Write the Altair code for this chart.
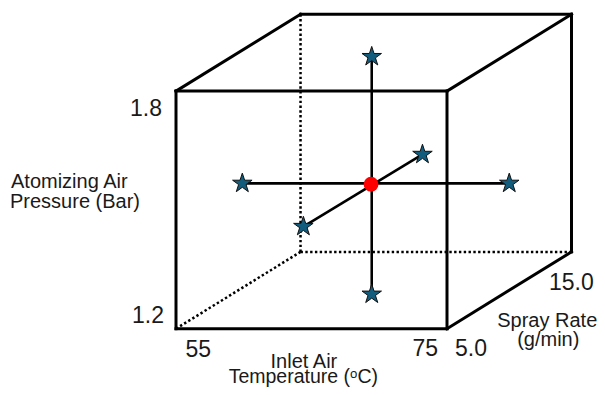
import altair as alt
import pandas as pd

# ---- design levels (cube corners) ----
temp_levels = [55, 75]          # Inlet air temperature (°C)
pressure_levels = [1.2, 1.8]    # Atomizing air pressure (Bar)
spray_levels = [5.0, 15.0]      # Spray rate (g/min)

# ---- axial (star) points: temperature, pressure, spray ----
star_names = ["left", "right", "top", "bottom", "front", "back"]
star_temp = [55.3, 75.0, 64.85, 64.85, 64.4, 64.0]
star_pressure = [1.47, 1.47, 1.79, 1.19, 1.458, 1.446]
star_spray = [10.0, 10.0, 10.0, 10.0, 5.0, 15.0]

# ---- centre point ----
center_temp = [64.8]
center_pressure = [1.468]
center_spray = [10.0]

# lines joining opposite star points
star_pairs = [("left", "right"), ("top", "bottom"), ("front", "back")]

# oblique projection of the spray-rate axis (per g/min)
DEPTH_T = 0.919
DEPTH_P = 0.0194
S0 = spray_levels[0]

T_DOMAIN = [42.6015, 86.0701]
P_DOMAIN = [1.05278, 2.00985]

xs = alt.Scale(domain=T_DOMAIN, nice=False, zero=False)
ys = alt.Scale(domain=P_DOMAIN, nice=False, zero=False)

STAR_PATH = ("M0,-1L0.2245,-0.309L0.951,-0.309L0.363,0.118L0.588,0.809L0,0.382"
             "L-0.588,0.809L-0.363,0.118L-0.951,-0.309L-0.2245,-0.309Z")


def proj_x(t, s):
    return float(t + (s - S0) * DEPTH_T)


def proj_y(p, s):
    return float(p + (s - S0) * DEPTH_P)


tl, th = temp_levels
pl, ph = pressure_levels
sl, sh = spray_levels
solid_edges = [
    ((tl, pl, sl), (th, pl, sl)),
    ((tl, ph, sl), (th, ph, sl)),
    ((tl, pl, sl), (tl, ph, sl)),
    ((th, pl, sl), (th, ph, sl)),
    ((tl, ph, sh), (th, ph, sh)),
    ((th, pl, sh), (th, ph, sh)),
    ((tl, ph, sl), (tl, ph, sh)),
    ((th, ph, sl), (th, ph, sh)),
    ((th, pl, sl), (th, pl, sh)),
]
dotted_edges = [
    ((tl, pl, sh), (tl, ph, sh)),
    ((tl, pl, sh), (th, pl, sh)),
    ((tl, pl, sl), (tl, pl, sh)),
]

idx = {n: i for i, n in enumerate(star_names)}
pair_edges = []
for a, b in star_pairs:
    ia, ib = idx[a], idx[b]
    pair_edges.append(((star_temp[ia], star_pressure[ia], star_spray[ia]),
                       (star_temp[ib], star_pressure[ib], star_spray[ib])))

# labels: text, anchor (T, P, S), pixel offset, align, font size
labels = [
    ("1.8", tl, ph, sl, -14, 25, "right", 23),
    ("1.2", tl, pl, sl, -12, -5.7, "right", 23),
    ("55", tl, pl, sl, 9.5, 28, "left", 23),
    ("75", th, pl, sl, -9, 27.5, "right", 23),
    ("5.0", th, pl, sl, 8, 27.5, "left", 23),
    ("15.0", th, pl, sh, -22.5, 38, "left", 23),
    ("Atomizing Air", tl, 1.5, sl, -165, -22, "left", 20),
    ("Pressure (Bar)", tl, 1.5, sl, -166, -2, "left", 20),
    ("Inlet Air", 65, pl, sl, -7.6, 39.5, "center", 20),
    ("Temperature (\u1d52C)", 65, pl, sl, -8.2, 54, "center", 19.5),
    ("Spray Rate", th, pl, 10.0, 38, 36.5, "center", 20),
    ("(g/min)", th, pl, 10.0, 39, 55.5, "center", 20),
]

# ---- one table for everything ----
rows = []
for kind, edges in (("solid", solid_edges), ("dotted", dotted_edges), ("axis", pair_edges)):
    for a, b in edges:
        rows.append({"kind": kind,
                     "px": proj_x(a[0], a[2]), "py": proj_y(a[1], a[2]),
                     "px2": proj_x(b[0], b[2]), "py2": proj_y(b[1], b[2]), "label": ""})
for t, p, s in zip(star_temp, star_pressure, star_spray):
    rows.append({"kind": "star", "px": proj_x(t, s), "py": proj_y(p, s),
                 "px2": proj_x(t, s), "py2": proj_y(p, s), "label": ""})
for t, p, s in zip(center_temp, center_pressure, center_spray):
    rows.append({"kind": "center", "px": proj_x(t, s), "py": proj_y(p, s),
                 "px2": proj_x(t, s), "py2": proj_y(p, s), "label": ""})
for i, (txt, T, P, S, dx, dy, align, fs) in enumerate(labels):
    rows.append({"kind": "label%d" % i, "px": proj_x(T, S), "py": proj_y(P, S),
                 "px2": proj_x(T, S), "py2": proj_y(P, S), "label": txt})
table = pd.DataFrame(rows)

base = alt.Chart(table).encode(
    x=alt.X("px:Q", scale=xs, axis=None),
    y=alt.Y("py:Q", scale=ys, axis=None),
)


def only(kind):
    return alt.datum.kind == kind


dotted = base.transform_filter(only("dotted")).mark_rule(
    color="black", strokeWidth=2.5, strokeDash=[2.4, 2.4]).encode(x2="px2:Q", y2="py2:Q")
solid = base.transform_filter(only("solid")).mark_rule(
    color="black", strokeWidth=3, strokeCap="square").encode(x2="px2:Q", y2="py2:Q")
axes_lines = base.transform_filter(only("axis")).mark_rule(
    color="black", strokeWidth=2.6).encode(x2="px2:Q", y2="py2:Q")
star_marks = base.transform_filter(only("star")).mark_point(
    shape=STAR_PATH, filled=True, fill="#125d7d", stroke="#111111",
    strokeWidth=1, size=420, opacity=1)
center_mark = base.transform_filter(only("center")).mark_circle(
    color="#ff0000", size=220, opacity=1)

text_layers = []
for i, (txt, T, P, S, dx, dy, align, fs) in enumerate(labels):
    text_layers.append(
        base.transform_filter(only("label%d" % i)).mark_text(
            align=align, baseline="alphabetic", dx=dx, dy=dy,
            font="Liberation Sans", fontSize=fs, color="#1a1a1a"
        ).encode(text="label:N")
    )

chart = alt.layer(
    dotted, solid, axes_lines, star_marks, center_mark, *text_layers
).properties(
    width=589, height=379, padding=0,
    autosize=alt.AutoSizeParams(type="none"),
    background="white",
).configure_view(stroke=None)

chart.save("out.html", embed_options={"renderer": "svg", "actions": False})
